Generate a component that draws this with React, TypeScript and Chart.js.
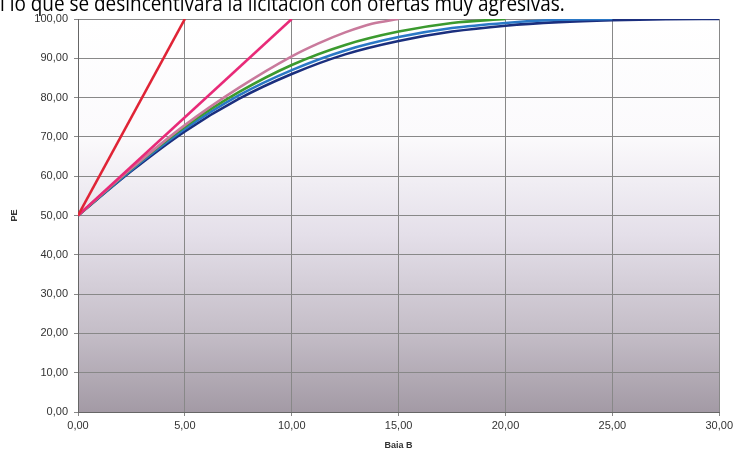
import React, { useEffect, useRef } from "react";
import { Chart, registerables } from "chart.js";

Chart.register(...registerables);

const headline = "l lo que se desincentivará la licitación con ofertas muy agresivas.";
const xTitle = "Baia B";
const yTitle = "PE";

const xRed = [0, 5];
const yRed = [50, 100];
const xPink = [0, 10];
const yPink = [50, 100];
const xMauve = [0, 2.5, 5, 7.5, 10, 11.25, 12.5, 13.75, 15];
const yMauve = [50, 62.0, 73.0, 82.4, 90.5, 93.8, 96.6, 98.8, 100];
const xGreen = [0, 2.5, 5, 7.5, 10, 12.5, 15, 17.5, 20];
const yGreen = [50, 61.9, 72.6, 81.3, 88.3, 93.4, 96.8, 99.0, 100];
const xBlue = [0, 2.5, 5, 7.5, 10, 12.5, 15, 17.5, 20, 22.5, 25];
const yBlue = [50, 61.6, 72.0, 80.5, 87.0, 92.0, 95.4, 97.7, 99.0, 99.8, 100];
const xNavy = [0, 2.5, 5, 7.5, 10, 12.5, 15, 17.5, 20, 22.5, 25, 27.5, 30];
const yNavy = [50, 61.3, 71.4, 79.6, 86.0, 91.0, 94.4, 96.8, 98.3, 99.2, 99.7, 99.95, 100];

const seriesColors = ["#e02436", "#e82a78", "#c97a9c", "#3b9a2e", "#2a78c6", "#1b2f7e"];

const pts = (xs: number[], ys: number[]) => xs.map((x, i) => ({ x, y: ys[i] }));
const fmt = (v: number) => Number(v).toFixed(2).replace(".", ",");

const bgPlugin = {
  id: "plotBg",
  beforeDraw(chart: any) {
    const { ctx, chartArea } = chart;
    if (!chartArea) return;
    const g = ctx.createLinearGradient(0, chartArea.top, 0, chartArea.bottom);
    g.addColorStop(0, "#ffffff");
    g.addColorStop(0.3, "#fbfafc");
    g.addColorStop(0.55, "#e4dfe9");
    g.addColorStop(0.8, "#c4bdc7");
    g.addColorStop(1, "#a39aa5");
    ctx.save();
    ctx.fillStyle = g;
    ctx.fillRect(chartArea.left, chartArea.top, chartArea.right - chartArea.left, chartArea.bottom - chartArea.top);
    ctx.restore();
  },
};

export default function App() {
  const canvasRef = useRef<HTMLCanvasElement | null>(null);

  useEffect(() => {
    if (!canvasRef.current) return;
    const mk = (label: string, xs: number[], ys: number[], color: string) => ({
      label,
      data: pts(xs, ys),
      borderColor: color,
      backgroundColor: color,
      borderWidth: 2.6,
      pointRadius: 0,
      showLine: true,
      fill: false,
      cubicInterpolationMode: "monotone" as const,
    });
    const chart = new Chart(canvasRef.current, {
      type: "scatter",
      data: {
        datasets: [
          mk("5", xRed, yRed, seriesColors[0]),
          mk("10", xPink, yPink, seriesColors[1]),
          mk("15", xMauve, yMauve, seriesColors[2]),
          mk("20", xGreen, yGreen, seriesColors[3]),
          mk("25", xBlue, yBlue, seriesColors[4]),
          mk("30", xNavy, yNavy, seriesColors[5]),
        ],
      },
      options: {
        animation: false,
        responsive: false,
        devicePixelRatio: 1,
        layout: { padding: { top: 19, right: 14, left: 0, bottom: 0 } },
        plugins: { legend: { display: false }, tooltip: { enabled: false } },
        scales: {
          x: {
            type: "linear",
            min: 0,
            max: 30,
            ticks: {
              stepSize: 5,
              callback: (v: any) => fmt(v),
              color: "#333",
              font: { family: "Liberation Sans", size: 11 },
              padding: 3,
              maxRotation: 0,
            },
            grid: { color: "#888", lineWidth: 1, tickLength: 4 },
            border: { color: "#666" },
            title: {
              display: true,
              text: xTitle,
              color: "#333",
              font: { family: "Liberation Sans", size: 9, weight: "bold" },
              padding: { top: 5, bottom: 0 },
            },
            afterFit: (s: any) => {
              s.height = 39;
            },
          },
          y: {
            min: 0,
            max: 100,
            ticks: {
              stepSize: 10,
              callback: (v: any) => fmt(v),
              color: "#333",
              font: { family: "Liberation Sans", size: 11 },
              padding: 6,
            },
            grid: { color: "#888", lineWidth: 1, tickLength: 4 },
            border: { color: "#666" },
            title: {
              display: true,
              text: yTitle,
              color: "#333",
              font: { family: "Liberation Sans", size: 9, weight: "bold" },
              padding: { top: 9, bottom: 0 },
            },
            afterFit: (s: any) => {
              s.width = 78;
            },
          },
        },
      },
      plugins: [bgPlugin],
    } as any);
    return () => chart.destroy();
  }, []);

  return (
    <div style={{ position: "fixed", left: 0, top: 0, width: 736, height: 451, background: "#fff", overflow: "hidden" }}>
      <canvas ref={canvasRef} width={736} height={451} style={{ position: "absolute", left: 0, top: 0 }} />
      <div
        style={{
          position: "absolute",
          left: 0,
          top: -9,
          fontFamily: "'Open Sans', sans-serif",
          fontSize: 22,
          lineHeight: "22px",
          whiteSpace: "nowrap",
          color: "#000",
          transformOrigin: "left top",
          transform: "scaleX(0.86)",
        }}
      >
        {headline}
      </div>
    </div>
  );
}
